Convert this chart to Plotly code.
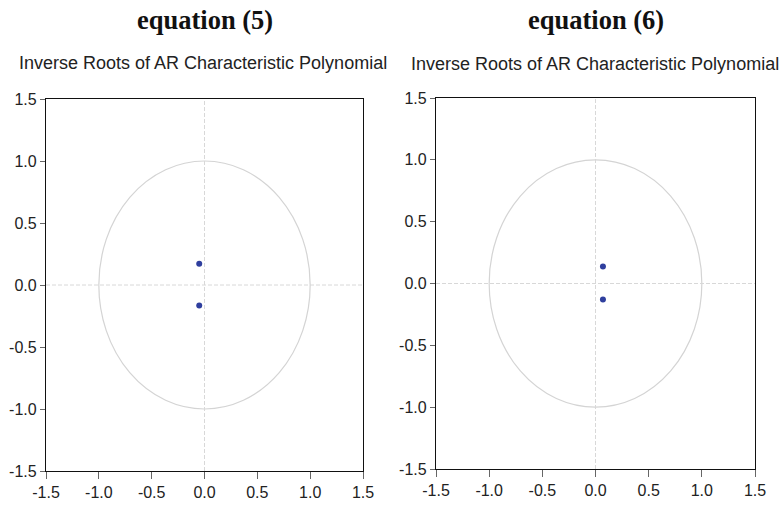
import plotly.graph_objects as go

panel_titles = ["equation (5)", "equation (6)"]
subtitle = "Inverse Roots of AR Characteristic Polynomial"
eq5_real = [-0.05, -0.05]
eq5_imag = [0.172, -0.165]
eq6_real = [0.07, 0.07]
eq6_imag = [0.138, -0.13]
tick_vals = [-1.5, -1.0, -0.5, 0.0, 0.5, 1.0, 1.5]
tick_text = ["-1.5", "-1.0", "-0.5", "0.0", "0.5", "1.0", "1.5"]

W, H = 780, 505
fig = go.Figure()

marker = dict(color="#2f3f9e", size=6)
fig.add_trace(go.Scatter(x=eq5_real, y=eq5_imag, mode="markers", marker=marker,
                         xaxis="x", yaxis="y", showlegend=False))
fig.add_trace(go.Scatter(x=eq6_real, y=eq6_imag, mode="markers", marker=marker,
                         xaxis="x2", yaxis="y2", showlegend=False))

def ax(domain, anchor, ticklen):
    return dict(domain=domain, anchor=anchor, range=[-1.5, 1.5],
                tickvals=tick_vals, ticktext=tick_text, automargin=False,
                showgrid=False, zeroline=False,
                showline=True, linecolor="#111", linewidth=1.3, mirror=True,
                ticks="outside", ticklen=ticklen, tickwidth=1.3, tickcolor="#666",
                tickfont=dict(family="Liberation Sans, Arial", size=16, color="#222"),
                fixedrange=True)

xd1 = [46 / W, 363 / W]
xd2 = [436 / W, 755 / W]
yd1 = [(H - 471) / H, (H - 99) / H]
yd2 = [(H - 469) / H, (H - 98) / H]

shapes = []
for xr, yr in (("x", "y"), ("x2", "y2")):
    shapes.append(dict(type="circle", xref=xr, yref=yr, x0=-1, y0=-1, x1=1, y1=1,
                       line=dict(color="#d4d4d4", width=1.2), layer="below"))
    shapes.append(dict(type="line", xref=xr, yref=yr, x0=-1.5, x1=1.5, y0=0, y1=0,
                       line=dict(color="#d8d8d8", width=1, dash="4px,2px"), layer="below"))
    shapes.append(dict(type="line", xref=xr, yref=yr, x0=0, x1=0, y0=-1.5, y1=1.5,
                       line=dict(color="#d8d8d8", width=1, dash="4px,2px"), layer="below"))

annotations = []
for cx, t in zip([(xd1[0] + xd1[1]) / 2, (xd2[0] + xd2[1]) / 2], panel_titles):
    annotations.append(dict(text="<b>" + t + "</b>", x=cx, y=(H - 20) / H,
                            xref="paper", yref="paper", showarrow=False,
                            font=dict(family="Liberation Serif, Times New Roman", size=26.5, color="#111"),
                            xanchor="center", yanchor="middle"))
annotations.append(dict(text=subtitle, x=203 / W, y=(H - 63) / H, xref="paper", yref="paper",
                        showarrow=False, font=dict(family="Liberation Sans, Arial", size=18, color="#222"),
                        xanchor="center", yanchor="middle"))
annotations.append(dict(text=subtitle, x=595 / W, y=(H - 64) / H, xref="paper", yref="paper",
                        showarrow=False, font=dict(family="Liberation Sans, Arial", size=18, color="#222"),
                        xanchor="center", yanchor="middle"))

fig.update_layout(
    width=W, height=H, margin=dict(l=0, r=0, t=0, b=0, autoexpand=False),
    paper_bgcolor="white", plot_bgcolor="white",
    xaxis=ax(xd1, "y", 7), yaxis=ax(yd1, "x", 5),
    xaxis2=ax(xd2, "y2", 7), yaxis2=ax(yd2, "x2", 5),
    shapes=shapes, annotations=annotations,
)

fig.write_html("out.html", config={"displayModeBar": False},
               post_script="document.body.style.margin='0';document.body.style.overflow='hidden';")
